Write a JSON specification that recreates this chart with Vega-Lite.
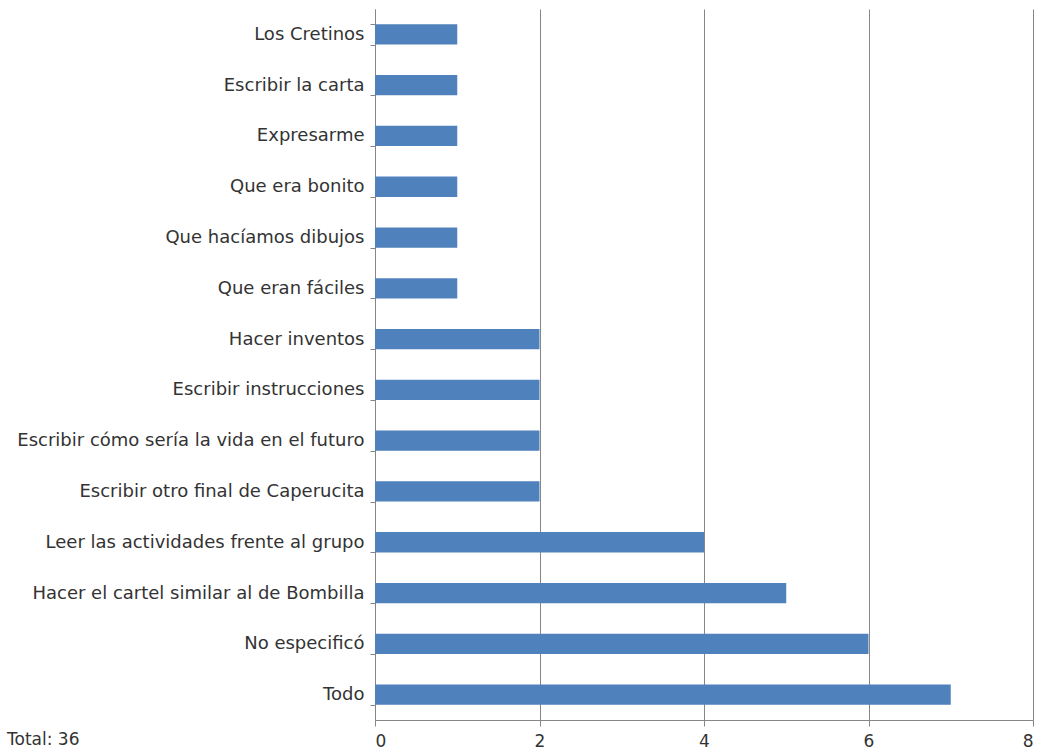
{
  "$schema": "https://vega.github.io/schema/vega-lite/v6.json",
  "autosize": "none",
  "width": 658,
  "height": 711,
  "padding": {"left": 375, "top": 9, "right": 5, "bottom": 35},
  "background": "white",
  "title": {"text": "Total: 36", "orient": "bottom", "anchor": "start", "frame": "group", "dx": -368, "offset": -17, "fontSize": 17, "font": "DejaVu Sans", "fontWeight": "normal", "color": "#333333"},
  "data": {"values": [
    {"actividad": "Los Cretinos", "n": 1},
    {"actividad": "Escribir la carta", "n": 1},
    {"actividad": "Expresarme", "n": 1},
    {"actividad": "Que era bonito", "n": 1},
    {"actividad": "Que hacíamos dibujos", "n": 1},
    {"actividad": "Que eran fáciles", "n": 1},
    {"actividad": "Hacer inventos", "n": 2},
    {"actividad": "Escribir instrucciones", "n": 2},
    {"actividad": "Escribir cómo sería la vida en el futuro", "n": 2},
    {"actividad": "Escribir otro final de Caperucita", "n": 2},
    {"actividad": "Leer las actividades frente al grupo", "n": 4},
    {"actividad": "Hacer el cartel similar al de Bombilla", "n": 5},
    {"actividad": "No especificó", "n": 6},
    {"actividad": "Todo", "n": 7}
  ]},
  "mark": {"type": "bar", "color": "#4F81BD"},
  "encoding": {
    "y": {"field": "actividad", "type": "nominal", "sort": null, "title": null,
      "scale": {"paddingInner": 0.6, "paddingOuter": 0.3},
      "axis": {"domainColor": "#868686", "tickColor": "#868686", "tickBand": "extent", "tickSize": 5, "labelFont": "DejaVu Sans", "labelFontSize": 18, "labelColor": "#333333", "labelPadding": 6, "grid": false, "labelLimit": 400}},
    "x": {"field": "n", "type": "quantitative", "title": null,
      "scale": {"domain": [0, 8], "nice": false},
      "axis": {"values": [0, 2, 4, 6, 8], "domainColor": "#868686", "tickColor": "#868686", "tickSize": 6, "gridColor": "#868686", "grid": true, "labelFont": "DejaVu Sans", "labelFontSize": 17, "labelColor": "#333333", "labelPadding": 7}}
  },
  "config": {"view": {"stroke": null}}
}
